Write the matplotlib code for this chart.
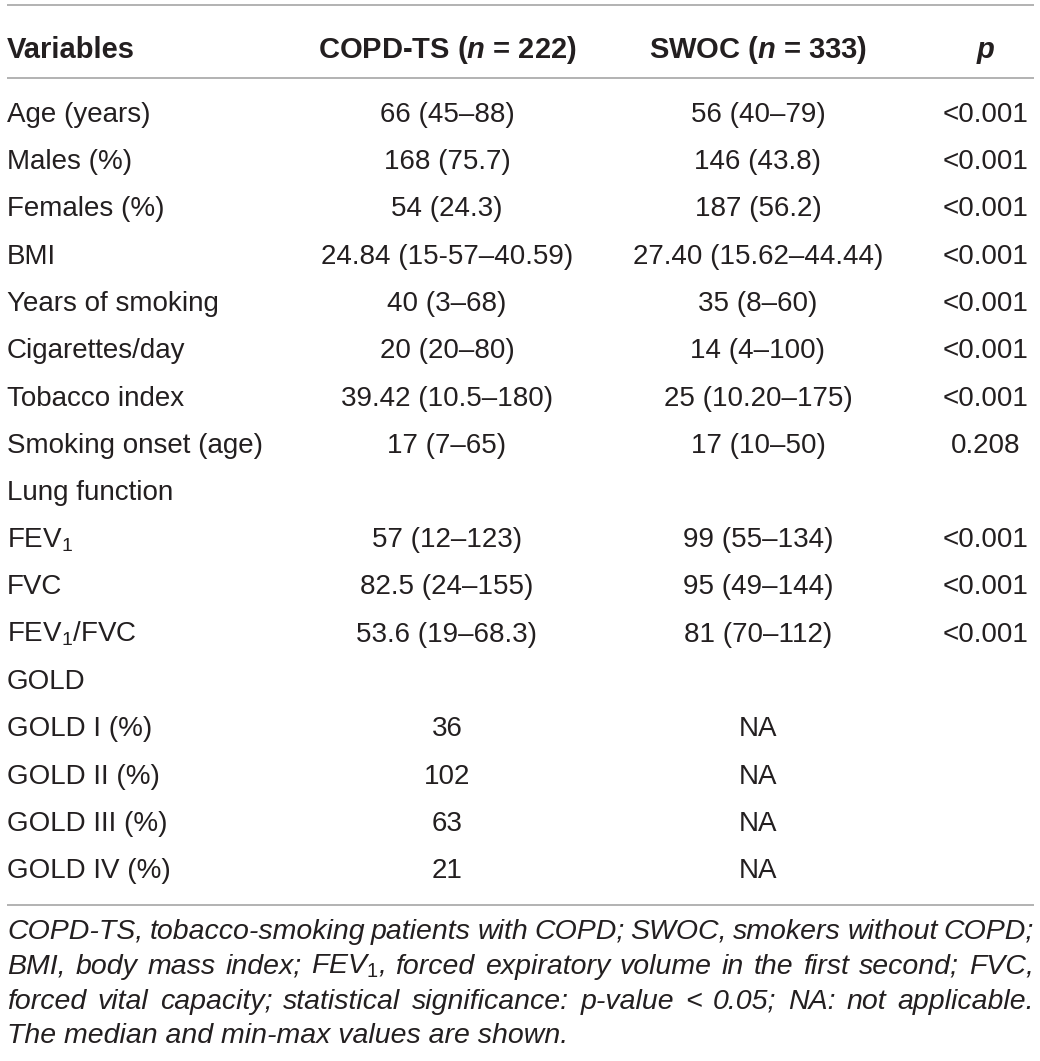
import matplotlib
matplotlib.use("Agg")
import matplotlib.pyplot as plt

# table content
variables = ["Age (years)", "Males (%)", "Females (%)", "BMI", "Years of smoking",
             "Cigarettes/day", "Tobacco index", "Smoking onset (age)", "Lung function",
             "FEV$_1$", "FVC", "FEV$_1$/FVC", "GOLD", "GOLD I (%)", "GOLD II (%)",
             "GOLD III (%)", "GOLD IV (%)"]
copd_ts = ["66 (45–88)", "168 (75.7)", "54 (24.3)", "24.84 (15-57–40.59)", "40 (3–68)",
           "20 (20–80)", "39.42 (10.5–180)", "17 (7–65)", "",
           "57 (12–123)", "82.5 (24–155)", "53.6 (19–68.3)", "",
           "36", "102", "63", "21"]
swoc = ["56 (40–79)", "146 (43.8)", "187 (56.2)", "27.40 (15.62–44.44)", "35 (8–60)",
        "14 (4–100)", "25 (10.20–175)", "17 (10–50)", "",
        "99 (55–134)", "95 (49–144)", "81 (70–112)", "",
        "NA", "NA", "NA", "NA"]
p_values = ["<0.001", "<0.001", "<0.001", "<0.001", "<0.001", "<0.001", "<0.001", "0.208", "",
            "<0.001", "<0.001", "<0.001", "", "", "", "", ""]
headers = ["Variables", "COPD-TS ($n$ = 222)", "SWOC ($n$ = 333)", "$p$"]
footnote = [
    "COPD-TS, tobacco-smoking patients with COPD; SWOC, smokers without COPD;",
    r"BMI, body mass index; FEV$_{\mathrm{1}}$, forced expiratory volume in the first second; FVC,",
    "forced vital capacity; statistical significance: p-value < 0.05; NA: not applicable.",
    "The median and min-max values are shown.",
]

plt.rcParams['font.family'] = ['Liberation Sans', 'DejaVu Sans']
plt.rcParams['mathtext.fontset'] = 'custom'
plt.rcParams['mathtext.rm'] = 'Liberation Sans'
plt.rcParams['mathtext.it'] = 'Liberation Sans:italic:bold'
plt.rcParams['mathtext.bf'] = 'Liberation Sans:bold'

W, H = 1040, 1061
fig = plt.figure(figsize=(W / 100, H / 100), dpi=100)
ax = fig.add_axes([0, 0, 1, 1])
ax.set_xlim(0, W)
ax.set_ylim(H, 0)
ax.axis('off')

ink = '#231f20'
rule = '#a6a6a6'
body_size = 20
head_size = 21
foot_size = 20.5

left, right = 7, 1034
col_x = [7, 447, 758, 986]

# horizontal rules
for y in [5, 78, 905]:
    ax.plot([left, right], [y, y], color=rule, lw=1.2, solid_capstyle='butt')

# header
head_base = 58
ax.text(col_x[0], head_base, headers[0], ha='left', va='baseline',
        fontsize=head_size, fontweight='bold', color=ink)
for cx, h in zip(col_x[1:], headers[1:]):
    ax.text(cx, head_base, h, ha='center', va='baseline',
            fontsize=head_size, fontweight='bold', color=ink)

# rows
row0, step = 122, 47.25
for i, (v, a, b, p) in enumerate(zip(variables, copd_ts, swoc, p_values)):
    yb = row0 + i * step
    ax.text(col_x[0], yb, v, ha='left', va='baseline', fontsize=body_size, color=ink)
    ax.text(col_x[1], yb, a, ha='center', va='baseline', fontsize=body_size, color=ink)
    ax.text(col_x[2], yb, b, ha='center', va='baseline', fontsize=body_size, color=ink)
    ax.text(col_x[3], yb, p, ha='center', va='baseline', fontsize=body_size, color=ink)

# footnote, justified except last line
renderer = fig.canvas.get_renderer()
foot_base, foot_step = 939, 34.8
for j, line in enumerate(footnote):
    yb = foot_base + j * foot_step
    words = line.split(' ')
    if j == len(footnote) - 1:
        ax.text(left, yb, line, ha='left', va='baseline', fontsize=foot_size,
                style='italic', color=ink)
        continue
    objs = [ax.text(0, yb, w_, ha='left', va='baseline', fontsize=foot_size,
                    style='italic', color=ink) for w_ in words]
    widths = [o.get_window_extent(renderer).width for o in objs]
    gap = (right - left - sum(widths)) / (len(words) - 1)
    x = left
    for o, wd in zip(objs, widths):
        o.set_x(x)
        x += wd + gap

fig.savefig('out.png', dpi=100, facecolor='white')
